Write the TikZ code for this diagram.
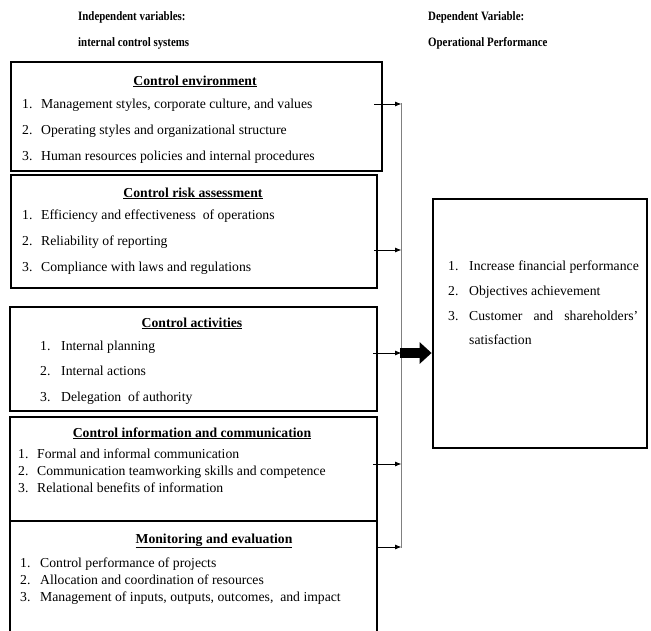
\documentclass[tikz,border=0pt]{standalone}
\usepackage{fontspec}
\setmainfont{Liberation Serif}
\usetikzlibrary{positioning,calc,arrows.meta}

\newcommand{\lbl}[2][19pt]{\makebox[#1][l]{#2}}
\newcommand{\narrow}[1]{\scalebox{0.85}[1]{#1}}

\begin{document}
\begin{tikzpicture}[x=1pt, y=-1pt, >={Latex[length=6.5pt,width=5pt]},
  box/.style={draw, line width=2.8pt, inner sep=0pt},
  head/.style={font=\fontsize{12.8}{15}\selectfont\bfseries, anchor=base west, inner sep=0pt},
  title/.style={font=\fontsize{13.7}{16}\selectfont\bfseries, anchor=base, inner sep=0pt},
  item/.style={font=\fontsize{13.7}{16}\selectfont, anchor=base west, inner sep=0pt},
  bus/.style={draw=black!50, line width=1pt},
  feed/.style={->, line width=0.8pt},
  big/.style={-{Triangle[length=12pt,width=21pt]}, line width=10pt}]
\useasboundingbox (0,0) rectangle (651,630);
\clip (0,0) rectangle (651,630);

% headings
\node[head] (ivar) at (78,20) {\narrow{Independent variables:}};
\node[head] (isys) at (78,46) {\narrow{internal control systems}};
\node[head] (dvar) at (428,20) {\narrow{Dependent Variable:}};
\node[head] (dperf) at (428,46) {\narrow{Operational Performance}};

% boxes
\node[box, minimum width=371, minimum height=109] (env) at (196.5,116.5) {};
\node[box, minimum width=366, minimum height=113] (risk) at (194,231.5) {};
\node[box, minimum width=367, minimum height=104] (act) at (193.5,359) {};
\node[box, minimum width=367, minimum height=104] (info) at (193.5,469) {};
\node[box, minimum width=367, minimum height=124] (mon) at (193.5,583) {};
\node[box, minimum width=214, minimum height=249] (perf) at (540,323.5) {};

% control environment
\node[title] (envt) at (195,85) {\underline{Control environment}};
\node[item] (e1) at (22,108) {\lbl{1.}Management styles, corporate culture, and values};
\node[item] (e2) at (22,134) {\lbl{2.}Operating styles and organizational structure};
\node[item] (e3) at (22,160) {\lbl{3.}Human resources policies and internal procedures};

% risk assessment
\node[title] (riskt) at (193,197) {\underline{Control risk assessment}};
\node[item] (r1) at (22,219.5) {\lbl{1.}Efficiency and effectiveness\ \ of operations};
\node[item] (r2) at (22,245) {\lbl{2.}Reliability of reporting};
\node[item] (r3) at (22,271) {\lbl{3.}Compliance with laws and regulations};

% activities
\node[title] (actt) at (192,327) {\underline{Control activities}};
\node[item] (a1) at (40,350.5) {\lbl[21pt]{1.}Internal planning};
\node[item] (a2) at (40,375.5) {\lbl[21pt]{2.}Internal actions};
\node[item] (a3) at (40,401.5) {\lbl[21pt]{3.}Delegation\ \ of authority};

% information and communication
\node[title] (infot) at (192,437) {\underline{Control information and communication}};
\node[item] (i1) at (18,458.5) {\lbl{1.}Formal and informal communication};
\node[item] (i2) at (18,475.5) {\lbl{2.}Communication teamworking skills and competence};
\node[item] (i3) at (18,492.5) {\lbl{3.}Relational benefits of information};

% monitoring
\node[title] (mont) at (214,543) {\underline{Monitoring and evaluation}};
\node[item] (m1) at (20,567.5) {\lbl[20pt]{1.}Control performance of projects};
\node[item] (m2) at (20,584.5) {\lbl[20pt]{2.}Allocation and coordination of resources};
\node[item] (m3) at (20,601.5) {\lbl[20pt]{3.}Management of inputs, outputs, outcomes,\ \ and impact};

% operational performance
\node[item] (p1) at (448,270.5) {\lbl[21pt]{1.}Increase financial performance};
\node[item] (p2) at (448,295.5) {\lbl[21pt]{2.}Objectives achievement};
\node[item] (p3) at (448,320.5) {\lbl[21pt]{3.}\makebox[169pt][s]{Customer and shareholders'}};
\node[item] (p4) at (469,344.5) {satisfaction};

% bus and arrows
\coordinate (busT) at (401.5,103);
\coordinate (busB) at (401.5,548);
\coordinate (envo) at (374,104);
\coordinate (risko) at (374,250);
\coordinate (acto) at (373,353);
\coordinate (infoo) at (373,464);
\coordinate (mono) at (378,547);
\coordinate (hub) at (400,353);

\draw[bus] (busT) -- (busB);
\path[feed]
    (envo) edge (envo -| busT)
    (risko) edge (risko -| busT)
    (acto) edge (acto -| busT)
    (infoo) edge (infoo -| busT)
    (mono) edge (mono -| busT);
\draw[big] (hub) -- (hub -| perf.west);
\end{tikzpicture}
\end{document}
